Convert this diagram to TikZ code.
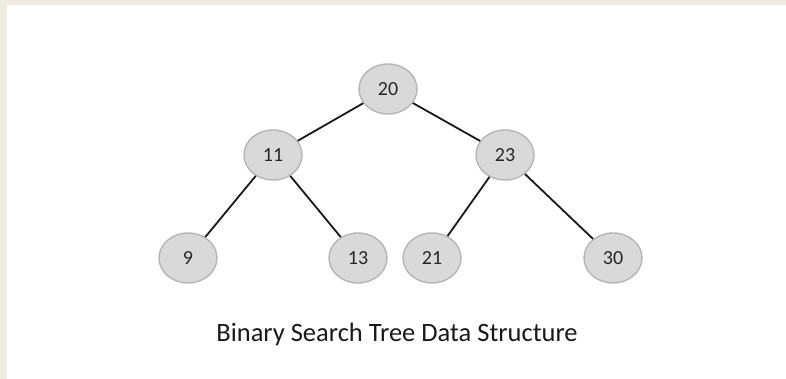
\documentclass[tikz,border=0pt]{standalone}
\usepackage{fontspec}
\setmainfont{Carlito}
\usepackage{tikz}
\usetikzlibrary{shapes.geometric}
\definecolor{pagebeige}{HTML}{EEEBE0}
\definecolor{nodefill}{HTML}{D9D9D9}
\definecolor{nodeline}{HTML}{B5B5B5}

\begin{document}
\begin{tikzpicture}[x=1pt, y=-1pt,
    bst/.style={ellipse, draw=nodeline, line width=1.4pt, fill=nodefill, minimum width=58pt, minimum height=50pt, inner sep=0pt, font=\fontsize{20}{22}\selectfont, text=black!85},
    link/.style={line width=1.8pt, black!90}]
  \useasboundingbox (0,0) rectangle (786,379);
  \fill[pagebeige] (0,0) rectangle (786,379);
  \fill[white] (7,5) rectangle (786,379);
  \node[bst] (n20) at (388,89) {20};
  \node[bst] (n11) at (273,155) {11};
  \node[bst] (n23) at (505,155) {23};
  \node[bst] (n9) at (188,258) {9};
  \node[bst] (n13) at (358,258) {13};
  \node[bst] (n21) at (432,258) {21};
  \node[bst] (n30) at (613,258) {30};
  \draw[link] (n20) -- (n11); \draw[link] (n20) -- (n23);
  \draw[link] (n11) -- (n9); \draw[link] (n11) -- (n13);
  \draw[link] (n23) -- (n21); \draw[link] (n23) -- (n30);
  \node[font=\fontsize{26.5}{30}\selectfont, text=black!90] (cap) at (397,334) {Binary Search Tree Data Structure};
\end{tikzpicture}
\end{document}
